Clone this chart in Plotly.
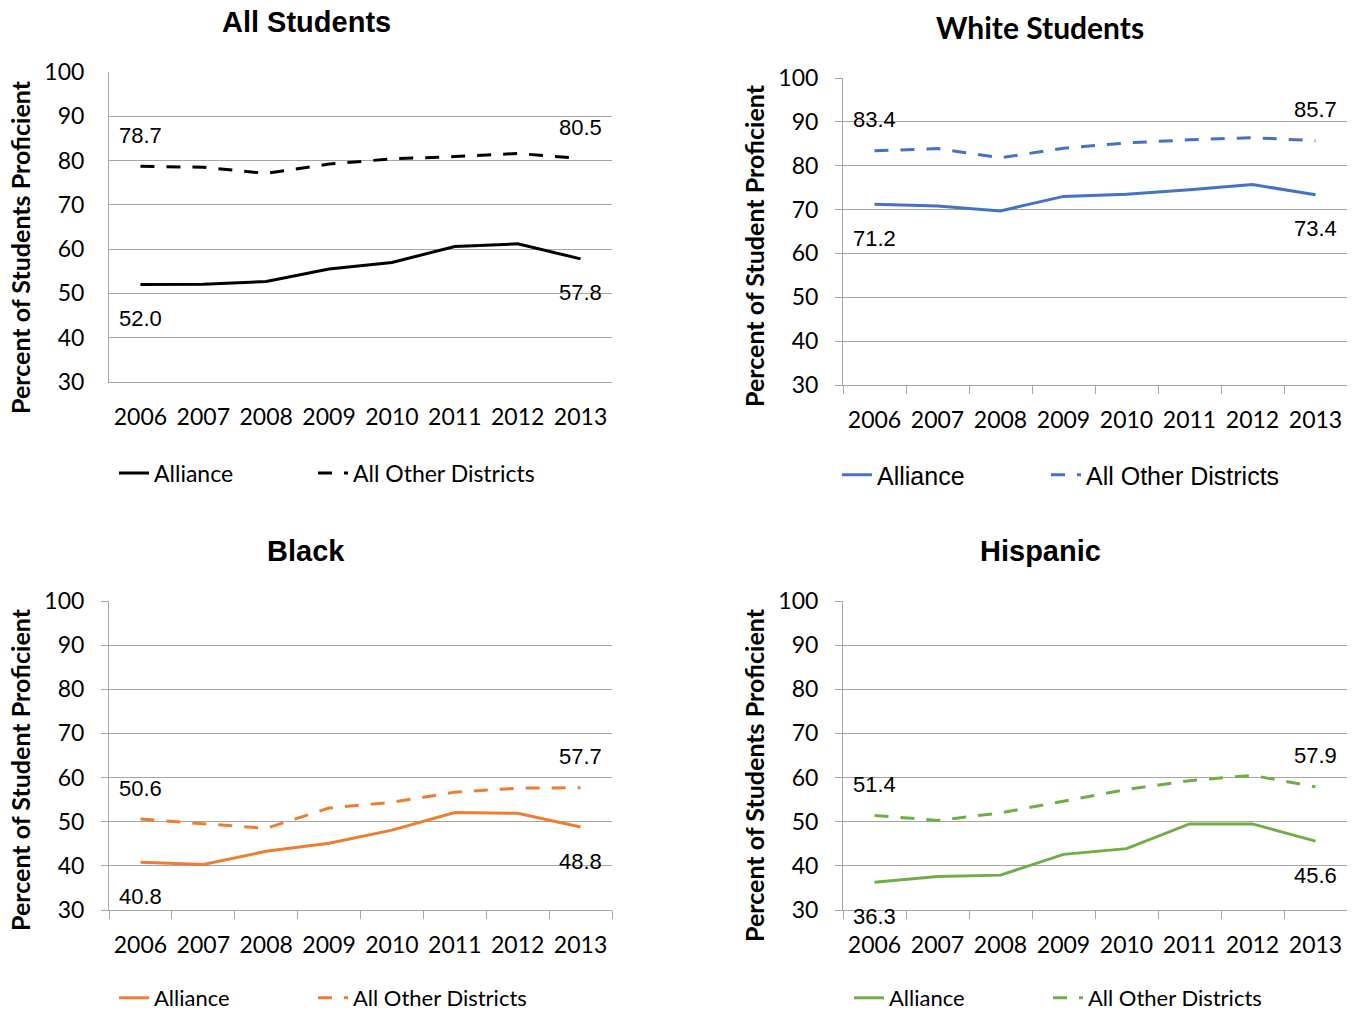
import plotly.graph_objects as go

W, H = 1354, 1013

years = ["2006", "2007", "2008", "2009", "2010", "2011", "2012", "2013"]

all_alliance = [52.0, 52.1, 52.7, 55.5, 57.0, 60.6, 61.2, 57.8]
all_other = [78.7, 78.5, 77.1, 79.2, 80.4, 80.9, 81.6, 80.5]
white_alliance = [71.2, 70.8, 69.7, 73.0, 73.5, 74.5, 75.7, 73.4]
white_other = [83.4, 83.9, 81.8, 84.0, 85.2, 85.9, 86.4, 85.7]
black_alliance = [40.8, 40.3, 43.3, 45.1, 48.1, 52.1, 51.9, 48.8]
black_other = [50.6, 49.6, 48.5, 53.1, 54.4, 56.7, 57.6, 57.7]
hisp_alliance = [36.3, 37.6, 37.9, 42.6, 43.9, 49.5, 49.5, 45.6]
hisp_other = [51.4, 50.3, 52.0, 54.7, 57.3, 59.3, 60.5, 57.9]

titles = ["All Students", "White Students", "Black", "Hispanic"]
ytitles = ["Percent of Students Proficient", "Percent of Student Proficient",
           "Percent of Student Proficient", "Percent of Students Proficient"]
series_names = ["Alliance", "All Other Districts"]
y_ticks = [30, 40, 50, 60, 70, 80, 90, 100]

CAL = "Lato, Carlito, Calibri, sans-serif"
ARI = "Liberation Sans, Arial, sans-serif"
GRID = "#a6a6a6"

panels = [
    dict(data=(all_alliance, all_other), color="#000000", box=(109, 612, 72, 382),
         ticks=False, title_font=ARI, title_size=29, title_x=306, title_y=22,
         legend_font=CAL, legend_size=23, legend_y=473, legend_xs=(114, 313),
         ytitle_y=247),
    dict(data=(white_alliance, white_other), color="#4472C4", box=(843, 1347, 78, 385),
         ticks=True, title_font=CAL, title_size=30, title_x=1040, title_y=27,
         legend_font=ARI, legend_size=25, legend_y=475, legend_xs=(837, 1046),
         ytitle_y=246),
    dict(data=(black_alliance, black_other), color="#ED7D31", box=(109, 612, 601, 910),
         ticks=True, title_font=ARI, title_size=29, title_x=306, title_y=551,
         legend_font=CAL, legend_size=22, legend_y=998, legend_xs=(114, 313),
         ytitle_y=770),
    dict(data=(hisp_alliance, hisp_other), color="#70AD47", box=(843, 1347, 601, 910),
         ticks=True, title_font=ARI, title_size=29, title_x=1040, title_y=551,
         legend_font=CAL, legend_size=22, legend_y=998, legend_xs=(849, 1048),
         ytitle_y=775),
]


def xp(px):
    return px / W


def yp(py):
    return 1 - py / H


def legend_id(k):
    return "legend" if k == 1 else "legend%d" % k


fig = go.Figure()
annotations = []
layout = dict(width=W, height=H, margin=dict(l=0, r=0, t=0, b=0, autoexpand=False),
              paper_bgcolor="white", plot_bgcolor="white", showlegend=True)

for i, p in enumerate(panels):
    n = "" if i == 0 else str(i + 1)
    xa, ya = "x" + n, "y" + n
    x0, x1, y0, y1 = p["box"]
    alliance, other = p["data"]
    dashes = ("solid", "14px,12px")
    for k, (name, vals) in enumerate(zip(series_names, (alliance, other))):
        leg = legend_id(2 * i + k + 1)
        fig.add_trace(go.Scatter(x=years, y=vals, mode="lines", name=name,
                                 line=dict(color=p["color"], width=3, dash=dashes[k]),
                                 xaxis=xa, yaxis=ya, legend=leg, hoverinfo="skip"))
        layout[leg] = dict(orientation="h", x=xp(p["legend_xs"][k]), y=yp(p["legend_y"]),
                           xanchor="left", yanchor="middle", bgcolor="rgba(0,0,0,0)",
                           font=dict(family=p["legend_font"], size=p["legend_size"],
                                     color="black"))
    layout["xaxis" + n] = dict(
        domain=[xp(x0), xp(x1)], anchor=ya, type="category", range=[-0.5, 7.5],
        showline=True, linecolor=GRID, linewidth=1, showgrid=False, zeroline=False,
        ticks="outside" if p["ticks"] else "", tickson="boundaries", ticklen=8,
        tickcolor=GRID, tickfont=dict(family=CAL, size=23, color="black"),
        ticklabelstandoff=14, fixedrange=True)
    layout["yaxis" + n] = dict(
        domain=[yp(y1), yp(y0)], anchor=xa, range=[30, 100], tickvals=y_ticks,
        showline=True, linecolor=GRID, linewidth=1, showgrid=True, gridcolor=GRID,
        gridwidth=1, zeroline=False, ticks="outside" if p["ticks"] else "",
        ticklen=7, tickcolor=GRID, tickfont=dict(family=CAL, size=23, color="black"),
        ticklabelstandoff=12 if p["ticks"] else 19, fixedrange=True)
    # title
    annotations.append(dict(text="<b>%s</b>" % titles[i], xref="paper", yref="paper",
                            x=xp(p["title_x"]), y=yp(p["title_y"]), showarrow=False,
                            xanchor="center", yanchor="middle",
                            font=dict(family=p["title_font"], size=p["title_size"], color="black")))
    # y-axis title
    annotations.append(dict(text="<b>%s</b>" % ytitles[i], xref="paper", yref="paper",
                            x=xp(x0 - 89), y=yp(p["ytitle_y"]), showarrow=False,
                            textangle=-90, xanchor="center", yanchor="middle",
                            font=dict(family=CAL, size=25, color="black")))
    # data labels at first and last points (x given as category index)
    for series, shift in ((other, 31), (alliance, -34)):
        for j in (0, len(years) - 1):
            annotations.append(dict(text="%.1f" % series[j], xref=xa, yref=ya,
                                    x=j, y=series[j], yshift=shift, showarrow=False,
                                    font=dict(family=ARI, size=22, color="black")))

layout["annotations"] = annotations
fig.update_layout(**layout)
fig.write_html("out.html", config={"displayModeBar": False})
